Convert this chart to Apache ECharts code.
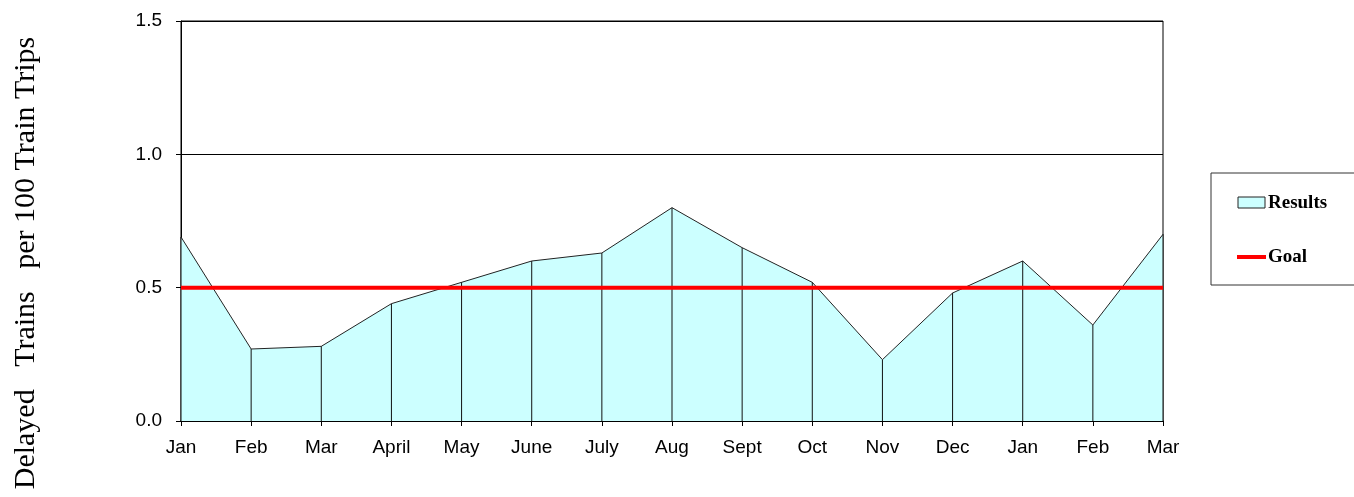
<!DOCTYPE html>
<html>
<head>
<meta charset="utf-8">
<script src="https://cdn.jsdelivr.net/npm/echarts@6/dist/echarts.min.js"></script>
<style>
  html, body { margin: 0; padding: 0; background: #fff; }
  #main { width: 1354px; height: 497px; }
</style>
</head>
<body>
<div id="main"></div>
<script>
var months = ['Jan', 'Feb', 'Mar', 'April', 'May', 'June', 'July', 'Aug', 'Sept', 'Oct', 'Nov', 'Dec', 'Jan', 'Feb', 'Mar']
var results = [0.69, 0.27, 0.28, 0.44, 0.52, 0.60, 0.63, 0.80, 0.65, 0.52, 0.23, 0.48, 0.60, 0.36, 0.70]
var goal = [0.5, 0.5, 0.5, 0.5, 0.5, 0.5, 0.5, 0.5, 0.5, 0.5, 0.5, 0.5, 0.5, 0.5, 0.5]
var yTitle = 'Delayed   Trains   per 100 Train Trips'

var chartDom = document.getElementById('main')
var myChart = echarts.init(chartDom)
var option

var serif = '"Liberation Serif", "Times New Roman", serif'
var sans = '"Liberation Sans", Arial, sans-serif'

option = {
  animation: false,
  grid: {
    left: 181,
    right: 191,
    top: 21,
    bottom: 76,
    show: true,
    borderColor: '#000',
    borderWidth: 1
  },
  xAxis: {
    type: 'category',
    data: months,
    boundaryGap: false,
    axisLine: { lineStyle: { color: '#000', width: 1.5 } },
    axisTick: { show: true, alignWithLabel: true, length: 5, lineStyle: { color: '#000' } },
    axisLabel: { color: '#000', fontFamily: sans, fontSize: 19, margin: 17 }
  },
  yAxis: {
    type: 'value',
    min: 0,
    max: 1.5,
    interval: 0.5,
    axisLine: { show: true, lineStyle: { color: '#000' } },
    axisTick: { show: true, length: 5, lineStyle: { color: '#000' } },
    axisLabel: {
      color: '#000', fontFamily: sans, fontSize: 19, margin: 19,
      formatter: function (v) { return v.toFixed(1) }
    },
    splitLine: { lineStyle: { color: '#000', width: 1 } }
  },
  series: [
    {
      name: 'Results',
      type: 'line',
      data: results,
      symbol: 'none',
      lineStyle: { color: '#222', width: 1 },
      areaStyle: { color: '#ccffff', opacity: 1 },
      z: 2
    },
    {
      // vertical drop lines from each point to the axis
      name: 'drops',
      type: 'bar',
      data: results,
      barWidth: 1,
      itemStyle: { color: '#111' },
      z: 3
    },
    {
      name: 'Goal',
      type: 'line',
      data: goal,
      symbol: 'none',
      lineStyle: { color: '#ff0000', width: 4 },
      z: 4
    }
  ],
  graphic: [
    {
      type: 'text',
      x: 26, y: 263,
      rotation: Math.PI / 2,
      style: { text: yTitle, fill: '#000', font: '30px ' + serif, align: 'center', verticalAlign: 'middle' }
    },
    {
      type: 'rect',
      shape: { x: 1211, y: 173, width: 160, height: 112 },
      style: { fill: '#fff', stroke: '#333', lineWidth: 1 }
    },
    {
      type: 'rect',
      shape: { x: 1238, y: 197, width: 27, height: 11 },
      style: { fill: '#ccffff', stroke: '#222', lineWidth: 1 }
    },
    {
      type: 'text',
      x: 1268, y: 203,
      style: { text: 'Results', fill: '#000', font: 'bold 19px ' + serif, verticalAlign: 'middle' }
    },
    {
      type: 'line',
      shape: { x1: 1237, y1: 257, x2: 1266, y2: 257 },
      style: { stroke: '#ff0000', lineWidth: 4 }
    },
    {
      type: 'text',
      x: 1268, y: 257,
      style: { text: 'Goal', fill: '#000', font: 'bold 19px ' + serif, verticalAlign: 'middle' }
    }
  ]
}
option && myChart.setOption(option)
</script>
</body>
</html>
